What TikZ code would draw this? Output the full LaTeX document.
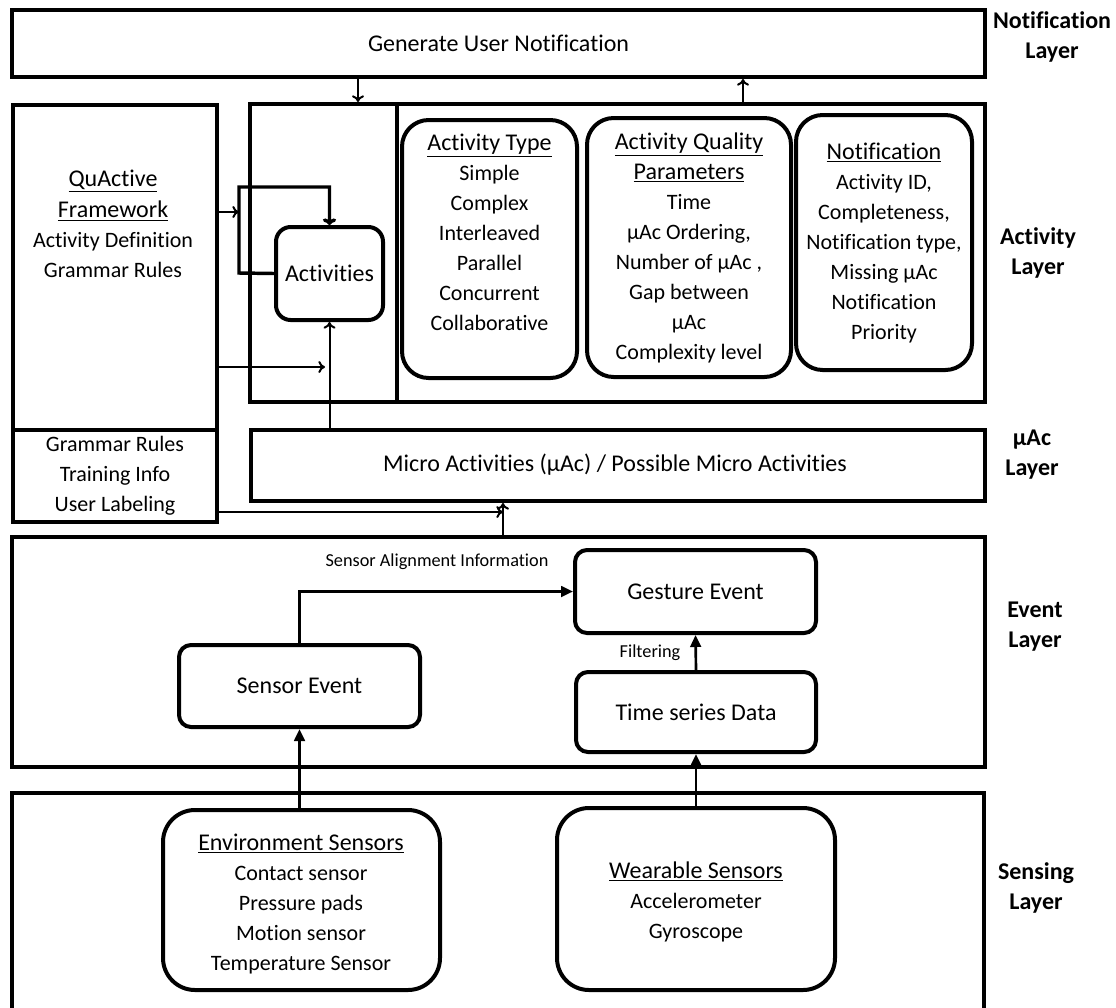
\documentclass[tikz,border=0pt]{standalone}
\usepackage{fontspec}
\setmainfont[Ligatures=NoCommon]{Carlito}
\usetikzlibrary{arrows.meta,fit}
% larger type used for box titles and single-line labels
\newcommand{\headsize}{\fontsize{18}{22.5}\selectfont}
\newcommand{\headline}[1]{{\headsize\underline{#1}}}
\begin{document}
\begin{tikzpicture}[x=0.75pt,y=-0.75pt,
  frame/.style={draw, line width=3pt, inner sep=0pt},
  rbox/.style={frame, rounded corners=#1},
  rbox/.default=16pt,
  txt/.style={align=center, font=\fontsize{16.5}{22.5}\selectfont, inner sep=0pt},
  bigtxt/.style={align=center, font=\headsize, inner sep=0pt},
  smalltxt/.style={font=\fontsize{13.7}{15}\selectfont, inner sep=0pt},
  layertxt/.style={align=center, font=\fontsize{18}{22.5}\selectfont\bfseries, inner sep=0pt},
  thinarr/.style={line width=1.5pt, -{To[length=5pt,width=9pt]}},
  looparr/.style={line width=2.6pt, -{To[length=5pt,width=10pt]}},
  evarr/.style={line width=2pt, -{Triangle[length=9pt,width=8pt]}},
]
\useasboundingbox (0,0) rectangle (1116,1007);

% ---------- layer frames ----------
\node[frame, fit={(12,10)(985,77)}] (notif) {};
\node[bigtxt] at (notif.center) {Generate User Notification};

\node[frame, fit={(250,104)(985,402)}] (actouter) {};
\coordinate (cdiv) at (397,0);
\draw[line width=3pt] (actouter.north -| cdiv) -- (actouter.south -| cdiv);

\node[frame, fit={(13,105)(217,430)}] (frame) {};
\node[txt] at (113,224) {\headline{QuActive}\\[1pt]\headline{Framework}\\Activity Definition\\Grammar Rules};

\node[frame, fit={(13,430)(217,522)}] (gram) {};
\node[txt] at (gram.center) {Grammar Rules\\Training Info\\User Labeling};

\node[frame, fit={(251,430)(985,501)}] (mac) {};
\node[bigtxt] at (615,465) {Micro Activities (μAc) / Possible Micro Activities};

\node[frame, fit={(12,537)(985,767)}] (event) {};

\draw[line width=3pt] (12,1010) -- (12,793) -- (984,793) -- (984,1010);

% ---------- activity layer contents ----------
\node[rbox=11pt, fit={(276,227)(383,320)}] (activities) {};
\node[bigtxt] at (activities.center) {Activities};

\node[rbox=20pt, fit={(402,120)(577,378)}] (atype) {};
\node[txt] at (489.5,232.5) {\headline{Activity Type}\\Simple\\Complex\\Interleaved\\Parallel\\Concurrent\\Collaborative};

\node[rbox=20pt, fit={(587,118)(791,377)}] (aqual) {};
\node[txt] at (689,248) {\headline{Activity Quality}\\\headline{Parameters}\\Time\\μAc Ordering,\\Number of μAc ,\\Gap between\\μAc\\Complexity level};

\node[rbox=20pt, fit={(796,115)(972,370)}] (anotif) {};
\node[txt] at (884,243) {\headline{Notification}\\Activity ID,\\Completeness,\\Notification type,\\Missing μAc\\Notification\\Priority};

% ---------- event layer contents ----------
\node[rbox=9pt, fit={(575,550)(816,633)}] (gesture) {};
\node[bigtxt] at (gesture.center) {Gesture Event};

\node[rbox=9pt, fit={(576,672)(816,752)}] (timeser) {};
\node[bigtxt] at (timeser.center) {Time series Data};

\node[rbox=9pt, fit={(179,645)(420,727)}] (sensev) {};
\node[bigtxt] at (sensev.center) {Sensor Event};

\node[smalltxt] at (437,562) {Sensor Alignment Information};
\node[smalltxt] at (650,653) {Filtering};

% ---------- sensing layer contents ----------
\node[rbox=24pt, fit={(163,810)(440,990)}] (env) {};
\node[txt] at (301,903.5) {\headline{Environment Sensors}\\Contact sensor\\Pressure pads\\Motion sensor\\Temperature Sensor};

\node[rbox=24pt, fit={(557,808)(835,990)}] (wear) {};
\node[txt] at (696,902) {\headline{Wearable Sensors}\\Accelerometer\\Gyroscope};

% ---------- layer names ----------
\node[layertxt] at (1052,37) {Notification\\Layer};
\node[layertxt] at (1038,253) {Activity\\Layer};
\node[layertxt] at (1032,455) {μAc\\Layer};
\node[layertxt] at (1035,627) {Event\\Layer};
\node[layertxt] at (1036,888) {Sensing\\Layer};

% ---------- connectors ----------
\coordinate (c358) at (358,0);
\coordinate (c743) at (743,0);
\draw[thinarr] (notif.south -| c358) -- (actouter.north -| c358);
\draw[thinarr] (actouter.north -| c743) -- (notif.south -| c743);

\coordinate (loopin) at (239,212);
\coordinate (loopbl) at (239,273);
\coordinate (looptl) at (239,187);
\draw[thinarr] (frame.east |- loopin) -- (loopin);
\draw[looparr] (activities.west) -- (loopbl) -- (looptl) -- (activities.north |- looptl) -- (activities.north);

\coordinate (c367) at (325,367);
\draw[thinarr] (frame.east |- c367) -- (c367);
\draw[thinarr] (activities.south |- mac.north) -- (activities.south);

\coordinate (c512) at (503,512);
\draw[thinarr] (gram.east |- c512) -- (c512);
\draw[thinarr] (c512 |- event.north) -- (c512 |- mac.south);

\draw[evarr] (sensev.north) -- (sensev.north |- gesture.west) -- (gesture.west);
\draw[evarr] (timeser.north) -- (gesture.south);
\draw[evarr] (sensev.south |- env.north) -- (sensev.south);
\draw[evarr] (timeser.south |- wear.north) -- (timeser.south);
\end{tikzpicture}
\end{document}
